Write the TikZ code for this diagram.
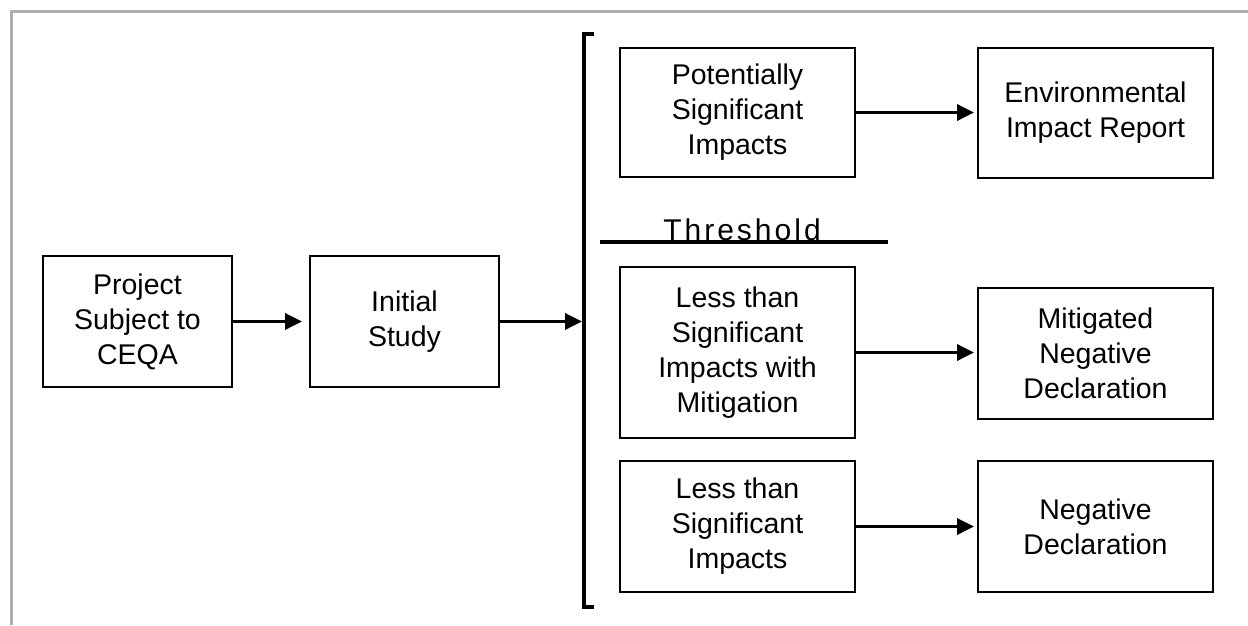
\documentclass[tikz,border=0pt]{standalone}
\usepackage{fontspec}
\setmainfont{Liberation Sans}
\usetikzlibrary{arrows.meta}
\definecolor{framegray}{HTML}{ADADAD}
\tikzset{
  box/.style={draw=black, line width=2pt, align=center, inner sep=0pt,
    font=\fontsize{28.5}{35}\selectfont},
  flow/.style={line width=3.5pt, -{Triangle[length=17pt,width=16pt]}},
}
\begin{document}
\begin{tikzpicture}[x=1pt,y=-1pt]
\useasboundingbox (0,0) rectangle (1248,625);
% frame
\draw[framegray, line width=3pt] (11,625) -- (11,11) -- (1248,11);
% left boxes
\node[box, minimum width=189pt, minimum height=131pt] (proj) at (137.5,321.5) {Project\\Subject to\\CEQA};
\node[box, minimum width=189pt, minimum height=131pt] (init) at (404.5,321.5) {Initial\\Study};
% bracket
\draw[line width=4pt, line join=miter] (594,34) -- (584,34) -- (584,607) -- (594,607);
\coordinate (brk) at (582,321.5);
% right boxes
\node[box, minimum width=235pt, minimum height=129pt] (pot) at (737.5,112.5) {Potentially\\Significant\\Impacts};
\node[box, minimum width=235pt, minimum height=130pt] (eir) at (1095.5,113) {Environmental\\Impact Report};
\node[box, minimum width=235pt, minimum height=171pt] (ltm) at (737.5,352.5) {Less than\\Significant\\Impacts with\\Mitigation};
\node[box, minimum width=235pt, minimum height=131pt] (mnd) at (1095.5,353.5) {Mitigated\\Negative\\Declaration};
\node[box, minimum width=235pt, minimum height=131pt] (lt) at (737.5,526.5) {Less than\\Significant\\Impacts};
\node[box, minimum width=235pt, minimum height=131pt] (nd) at (1095.5,526.5) {Negative\\Declaration};
% threshold
\coordinate (thA) at (600,242);
\coordinate (thB) at (888,242);
\draw[line width=4pt] (thA) -- (thB);
\node[anchor=base, inner sep=0pt, font=\fontsize{30}{36}\selectfont\addfontfeature{LetterSpace=10}] (thr) at (742,240) {Threshold};
% arrows
\draw[flow, shorten >=7pt] (proj.east) -- (init.west);
\draw[flow] (init.east) -- (brk);
\draw[flow, shorten >=3pt] (pot.east) -- (eir.west |- pot.east);
\draw[flow, shorten >=3pt] (ltm.east) -- (mnd.west |- ltm.east);
\draw[flow, shorten >=3pt] (lt.east) -- (nd.west |- lt.east);
\end{tikzpicture}
\end{document}
